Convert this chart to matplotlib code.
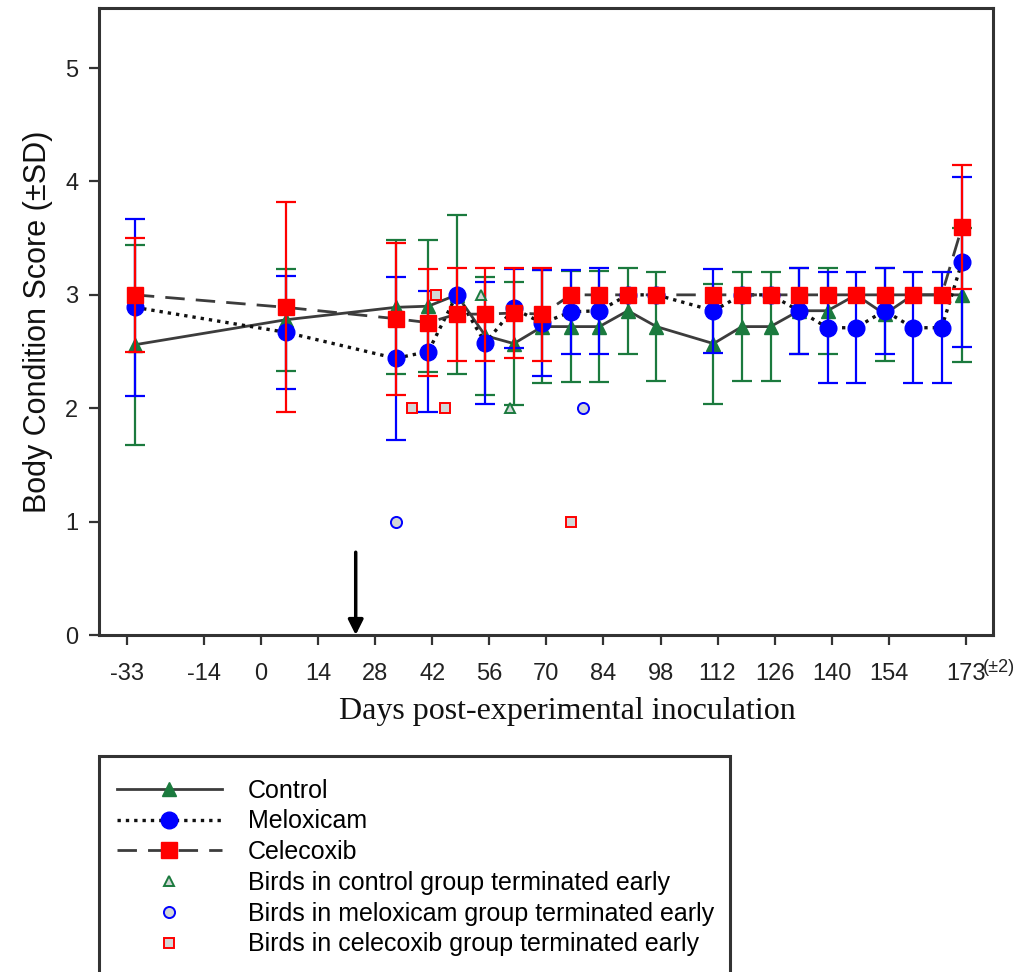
import matplotlib

matplotlib.use("Agg")
import matplotlib.pyplot as plt
from matplotlib.lines import Line2D
from matplotlib.patches import Rectangle

# Sampling days (post-inoculation) and group means / SDs of body condition score
days = [-31, 6, 33, 41, 48, 55, 62, 69, 76, 83, 90, 97,
        111, 118, 125, 132, 139, 146, 153, 160, 167, 172]

control_mean = [2.56, 2.78, 2.89, 2.90, 3.00, 2.64, 2.57, 2.72, 2.72, 2.72, 2.86, 2.72,
                2.57, 2.72, 2.72, 2.86, 2.86, 3.00, 2.83, 3.00, 3.00, 3.00]
control_sd = [0.88, 0.45, 0.59, 0.58, 0.70, 0.52, 0.54, 0.50, 0.49, 0.49, 0.38, 0.48,
              0.53, 0.48, 0.48, 0.38, 0.38, 0.00, 0.41, 0.00, 0.00, 0.59]

meloxicam_mean = [2.89, 2.67, 2.44, 2.50, 3.00, 2.575, 2.88, 2.75, 2.85, 2.86, 3.00, 3.00,
                  2.86, 3.00, 3.00, 2.86, 2.71, 2.71, 2.86, 2.71, 2.71, 3.29]
meloxicam_sd = [0.78, 0.50, 0.72, 0.53, 0.00, 0.535, 0.35, 0.47, 0.37, 0.38, 0.00, 0.00,
                0.37, 0.00, 0.00, 0.38, 0.49, 0.49, 0.38, 0.49, 0.49, 0.75]

celecoxib_mean = [3.00, 2.89, 2.79, 2.755, 2.83, 2.83, 2.84, 2.83, 3.00, 3.00, 3.00, 3.00,
                  3.00, 3.00, 3.00, 3.00, 3.00, 3.00, 3.00, 3.00, 3.00, 3.60]
celecoxib_sd = [0.50, 0.925, 0.67, 0.475, 0.41, 0.41, 0.40, 0.41, 0.00, 0.00, 0.00, 0.00,
                0.00, 0.00, 0.00, 0.00, 0.00, 0.00, 0.00, 0.00, 0.00, 0.545]

# Individual birds removed from the study early
control_early_days = [54, 61]
control_early_score = [3, 2]
meloxicam_early_days = [33, 79]
meloxicam_early_score = [1, 2]
celecoxib_early_days = [37, 43, 45, 76]
celecoxib_early_score = [2, 3, 2, 1]

tick_days = [-33, -14, 0, 14, 28, 42, 56, 70, 84, 98, 112, 126, 140, 154, 173]
arrow_day = 23.2

GREEN = "#1b7a3e"
BLUE = "#0000ff"
RED = "#ff0000"
LINE = "#3c3c3c"
DOTS = "#111111"
OPEN_FILL = "#d3d7d7"
SPINE = "#333333"

plt.rcParams["font.family"] = ["Liberation Sans", "DejaVu Sans"]

W, H = 1031, 972
fig = plt.figure(figsize=(W / 100, H / 100), dpi=100)
ax = fig.add_axes([99 / W, 1 - 635 / H, (993 - 99) / W, (635 - 8) / H])


def draw_group(mean, sd, marker, color, ms, ls, z, line_color=LINE, lw=2.0, dashes=None):
    line, = ax.plot(days, mean, color=line_color, lw=lw, ls=ls, zorder=2)
    if dashes is not None:
        line.set_dashes(dashes)
    keep = [i for i, s in enumerate(sd) if s > 0]
    ax.errorbar([days[i] for i in keep], [mean[i] for i in keep],
                yerr=[sd[i] for i in keep], fmt="none", ecolor=color,
                elinewidth=1.6, capsize=7, capthick=1.6, zorder=z)
    ax.plot(days, mean, ls="none", marker=marker, ms=ms, mfc=color, mec=color,
            zorder=z + 0.5)


draw_group(control_mean, control_sd, "^", GREEN, 10, "-", 3)
draw_group(meloxicam_mean, meloxicam_sd, "o", BLUE, 12, ":", 4,
           line_color=DOTS, lw=2.4, dashes=(1.0, 1.5))
draw_group(celecoxib_mean, celecoxib_sd, "s", RED, 11, "--", 5, dashes=(7, 4))

ax.plot(control_early_days, control_early_score, ls="none", marker="^", ms=7,
        mfc=OPEN_FILL, mec=GREEN, mew=1.4, zorder=6)
ax.plot(meloxicam_early_days, meloxicam_early_score, ls="none", marker="o", ms=8,
        mfc=OPEN_FILL, mec=BLUE, mew=1.4, zorder=6)
ax.plot(celecoxib_early_days, celecoxib_early_score, ls="none", marker="s", ms=7,
        mfc=OPEN_FILL, mec=RED, mew=1.4, zorder=6)

# Inoculation arrow
ax.annotate("", xy=(arrow_day, 0.0), xytext=(arrow_day, 0.73),
            arrowprops=dict(arrowstyle="-|>,head_length=0.9,head_width=0.45",
                            color="black", lw=2.5, shrinkA=0, shrinkB=0),
            zorder=7)

ax.set_xlim(-39.8, 179.6)
ax.set_ylim(0, 5.53)
ax.set_xticks(tick_days)
ax.set_xticklabels([str(d) for d in tick_days])
ax.set_yticks(range(6))
ax.tick_params(axis="both", direction="out", length=7, width=1.6, color=SPINE,
               labelsize=17, labelcolor="#222222")
ax.tick_params(axis="x", pad=13)
ax.tick_params(axis="y", pad=8)
for sp in ax.spines.values():
    sp.set_linewidth(2.2)
    sp.set_color(SPINE)

ax.set_ylabel("Body Condition Score (\u00b1SD)", fontsize=22, labelpad=9,
              color="#111111")
fig.text(567 / W, 1 - 712 / H, "Days post-experimental inoculation", fontsize=23,
         family=["Liberation Serif", "DejaVu Serif"], ha="center", va="center",
         color="#111111")
fig.text(983 / W, 1 - 667 / H, "(\u00b12)", fontsize=13, ha="left", va="center",
         color="#222222")

handles = [
    Line2D([], [], color=LINE, lw=2.0, ls="-", marker="^", ms=10, mfc=GREEN, mec=GREEN),
    Line2D([], [], color=DOTS, lw=2.4, ls=(0, (1.0, 1.5)), marker="o", ms=12,
           mfc=BLUE, mec=BLUE),
    Line2D([], [], color=LINE, lw=2.0, ls=(0, (7, 4)), marker="s", ms=11,
           mfc=RED, mec=RED),
    Line2D([], [], ls="none", marker="^", ms=7, mfc=OPEN_FILL, mec=GREEN, mew=1.4),
    Line2D([], [], ls="none", marker="o", ms=8, mfc=OPEN_FILL, mec=BLUE, mew=1.4),
    Line2D([], [], ls="none", marker="s", ms=7, mfc=OPEN_FILL, mec=RED, mew=1.4),
]
labels = [
    "Control",
    "Meloxicam",
    "Celecoxib",
    "Birds in control group terminated early",
    "Birds in meloxicam group terminated early",
    "Birds in celecoxib group terminated early",
]
fig.legend(handles, labels, loc="upper left",
           bbox_to_anchor=(99 / W, 1 - 761 / H),
           fontsize=18, frameon=False,
           handlelength=4.2, handletextpad=1.05, labelspacing=0.27,
           borderpad=0.7, borderaxespad=0)

# Legend frame runs past the bottom edge of the figure
fig.patches.append(Rectangle((99 / W, -0.05), (730 - 99) / W, 0.05 + (1 - 756 / H),
                             transform=fig.transFigure, fill=False,
                             edgecolor=SPINE, lw=2.2))

fig.savefig("out.png", dpi=100)
